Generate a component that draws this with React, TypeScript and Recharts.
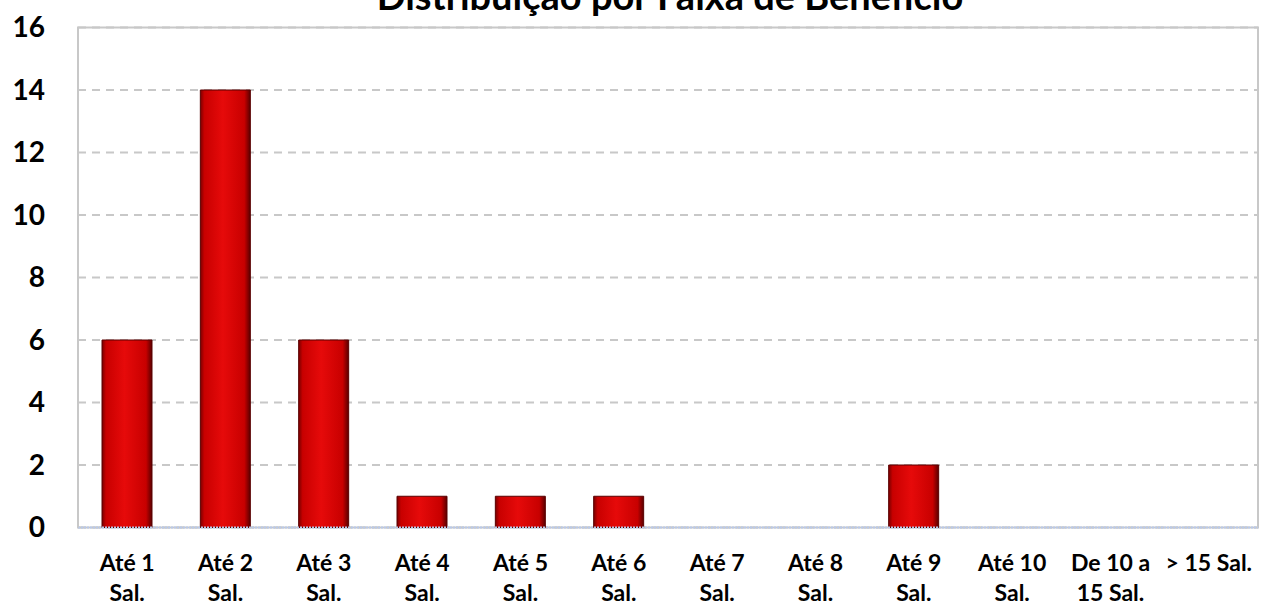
import { Bar, BarChart, CartesianGrid, ReferenceArea, XAxis, YAxis } from "recharts"

const categories = [
  "Até 1 Sal.",
  "Até 2 Sal.",
  "Até 3 Sal.",
  "Até 4 Sal.",
  "Até 5 Sal.",
  "Até 6 Sal.",
  "Até 7 Sal.",
  "Até 8 Sal.",
  "Até 9 Sal.",
  "Até 10 Sal.",
  "De 10 a 15 Sal.",
  "> 15 Sal.",
]
const values = [6, 14, 6, 1, 1, 1, 0, 0, 2, 0, 0, 0]
const yTicks = [0, 2, 4, 6, 8, 10, 12, 14, 16]
const title = "Distribuição por Faixa de Benefício"

const data = categories.map((name, i) => ({ name, value: values[i] }))

const font = "Lato, 'Open Sans', sans-serif"

// wrap a label into lines of max ~9 chars, like the original
function wrap(label: string) {
  const words = label.split(" ")
  const lines: string[] = []
  let cur = ""
  for (const w of words) {
    const next = cur ? cur + " " + w : w
    if (next.length > 9 && cur) {
      lines.push(cur)
      cur = w
    } else {
      cur = next
    }
  }
  if (cur) lines.push(cur)
  return lines
}

function XTick({ x, y, payload }: any) {
  const lines = wrap(payload.value)
  return (
    <text x={x} y={y} textAnchor="middle" fontFamily={font} fontWeight={700} fontSize={23} fill="#000">
      {lines.map((l, i) => (
        <tspan key={i} x={x} dy={i === 0 ? 35 : 30}>
          {l}
        </tspan>
      ))}
    </text>
  )
}

export default function App() {
  return (
    <div style={{ position: "absolute", left: 0, top: 0, width: 1261, height: 602, background: "#fff" }}>
      <BarChart
        width={1261}
        height={602}
        data={data}
        margin={{ top: 27.5, right: 3, bottom: 0, left: 0 }}
        barSize={50}
      >
        <defs>
          <linearGradient id="barFill" x1="0" y1="0" x2="1" y2="0">
            <stop offset="0%" stopColor="#7a0000" />
            <stop offset="8%" stopColor="#c80000" />
            <stop offset="45%" stopColor="#e60a0a" />
            <stop offset="88%" stopColor="#c80000" />
            <stop offset="100%" stopColor="#5a0000" />
          </linearGradient>
        </defs>
        <text x={670} y={10} textAnchor="middle" fontFamily={font} fontWeight={700} fontSize={38} fill="#000">
          {title}
        </text>
        <CartesianGrid vertical={false} stroke="#c8c8c8" strokeWidth={2} strokeDasharray="8 6" />
        <ReferenceArea y1={0} y2={16} fill="none" stroke="#c8c8c8" strokeWidth={2} ifOverflow="visible" />
        <XAxis
          dataKey="name"
          interval={0}
          height={74.5}
          tickLine={false}
          axisLine={{ stroke: "#b9c9ea", strokeWidth: 2, strokeDasharray: "2 1" }}
          tick={<XTick />}
        />
        <YAxis
          domain={[0, 16]}
          ticks={yTicks}
          width={78}
          tickLine={false}
          axisLine={{ stroke: "#c8c8c8", strokeWidth: 2 }}
          tick={{ fontFamily: font, fontWeight: 700, fontSize: 28, fill: "#000", dx: -25 }}
        />
        <Bar dataKey="value" fill="url(#barFill)" stroke="#5a0000" strokeWidth={1} isAnimationActive={false} />
      </BarChart>
    </div>
  )
}
